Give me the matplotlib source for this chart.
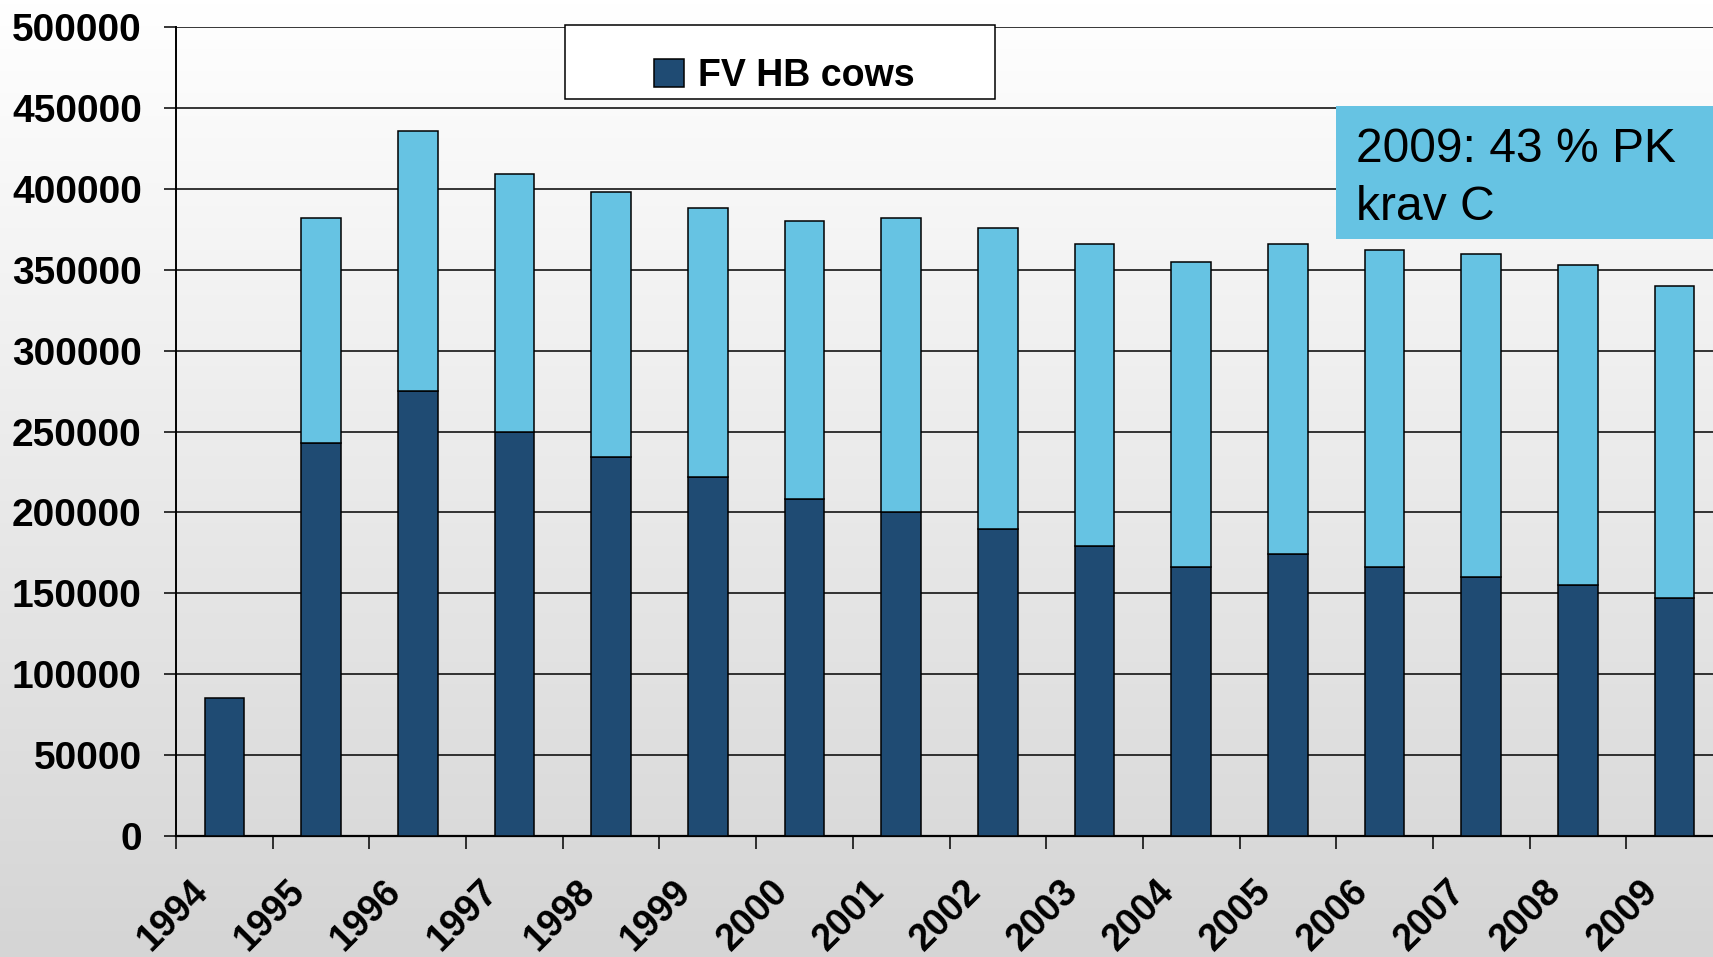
import numpy as np
import matplotlib
matplotlib.use("Agg")
import matplotlib.pyplot as plt
from matplotlib.patches import Rectangle, Patch
from matplotlib.colors import LinearSegmentedColormap

# Herd-book cow numbers per year
years = ["1994", "1995", "1996", "1997", "1998", "1999", "2000", "2001",
         "2002", "2003", "2004", "2005", "2006", "2007", "2008", "2009"]
fv_hb_cows = [85000, 243000, 275000, 250000, 234000, 222000, 208000, 200000,
              190000, 179000, 166000, 174000, 166000, 160000, 155000, 147000]
other_cows = [0, 139000, 161000, 159000, 164000, 166000, 172000, 182000,
              186000, 187000, 189000, 192000, 196000, 200000, 198000, 193000]
y_ticks = [0, 50000, 100000, 150000, 200000, 250000, 300000, 350000,
           400000, 450000, 500000]
legend_label = "FV HB cows"
note_text = "2009: 43 % PK\nkrav C"

DARK = "#1F4B73"
LIGHT = "#66C3E3"
FONT = "Liberation Sans"

W, H = 1713, 957
fig = plt.figure(figsize=(W / 100, H / 100), dpi=100)

# soft vertical gradient behind everything: white at top, grey at bottom
bg = fig.add_axes([0, 0, 1, 1], zorder=-10)
grad = np.linspace(0.0, 1.0, 256).reshape(-1, 1)
cmap = LinearSegmentedColormap.from_list("bg", ["#d5d5d5", "#ffffff"])
bg.imshow(grad, aspect="auto", cmap=cmap, extent=[0, 1, 0, 1], origin="lower")
bg.axis("off")

# plot area (runs past the right edge of the figure)
left, right_px = 176, 1723
top_px, bottom_px = 27, 836
ax = fig.add_axes([left / W, 1 - bottom_px / H, (right_px - left) / W,
                   (bottom_px - top_px) / H])
ax.set_facecolor("none")

x = np.arange(len(years))
bw = 0.41
ax.bar(x, fv_hb_cows, width=bw, color=DARK, edgecolor="black",
       linewidth=1.1, zorder=3)
ax.bar(x[1:], other_cows[1:], width=bw, bottom=fv_hb_cows[1:], color=LIGHT,
       edgecolor="black", linewidth=1.1, zorder=3)

ax.set_xlim(-0.5, len(years) - 0.5)
ax.set_ylim(0, 500000)
ax.set_yticks(y_ticks)
ax.set_yticklabels([str(v) for v in y_ticks], fontsize=28, fontweight="bold",
                   family=FONT)
ax.yaxis.grid(True, color="black", linewidth=1.1)
ax.set_axisbelow(True)

# boundary ticks between categories, rotated labels near each boundary
ax.set_xticks(np.arange(len(years) + 1) - 0.5, minor=True)
ax.set_xticks(x - 0.36)
ax.set_xticklabels(years, rotation=45, ha="right", va="top",
                   rotation_mode="anchor", fontsize=27, fontweight="bold",
                   family=FONT)
ax.tick_params(axis="x", which="major", length=0, pad=27)
ax.tick_params(axis="x", which="minor", length=9.4, width=1.1, color="black")
ax.tick_params(axis="y", length=8.6, width=1.1, pad=16, color="black")

for side in ("top", "right"):
    ax.spines[side].set_visible(False)
ax.spines["left"].set_linewidth(1.4)
ax.spines["bottom"].set_linewidth(1.6)

# legend frame and entry
fig.add_artist(Rectangle((565 / W, 1 - 99 / H), 430 / W, 74 / H,
                         transform=fig.transFigure, facecolor="white",
                         edgecolor="black", linewidth=1.1, zorder=4))
fig.legend(handles=[Patch(facecolor=DARK, edgecolor="black", linewidth=1.1)],
           labels=[legend_label], loc="center",
           bbox_to_anchor=(784 / W, 1 - 76 / H), frameon=False,
           prop={"family": FONT, "weight": "bold", "size": 27},
           handlelength=0.8, handleheight=0.8, handletextpad=0.37)

# note box at upper right
fig.add_artist(Rectangle((1336 / W, 1 - 239 / H), 400 / W, 133 / H,
                         transform=fig.transFigure, facecolor=LIGHT,
                         edgecolor="none", zorder=4))
fig.text(1356 / W, 1 - 127 / H, note_text, ha="left", va="top", fontsize=34.6,
         family=FONT, color="black", linespacing=1.36, zorder=6)

fig.savefig("out.png", dpi=100)
